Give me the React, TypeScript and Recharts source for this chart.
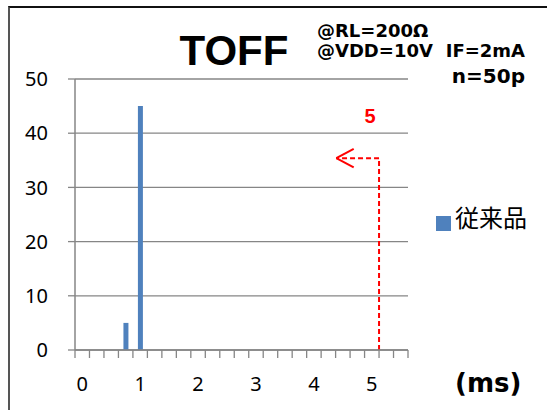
import {
  Bar,
  BarChart,
  CartesianGrid,
  Legend,
  ReferenceLine,
  XAxis,
  YAxis,
} from "recharts";

// histogram bins (ms), 0.25 ms wide
const binStarts = [
  "0", "0.25", "0.5", "0.75", "1", "1.25", "1.5", "1.75", "2", "2.25", "2.5", "2.75",
  "3", "3.25", "3.5", "3.75", "4", "4.25", "4.5", "4.75", "5", "5.25", "5.5",
];
const counts = [0, 0, 0, 5, 45, 0, 0, 0, 0, 0, 0, 0, 0, 0, 0, 0, 0, 0, 0, 0, 0, 0, 0];
const yTicks = [0, 10, 20, 30, 40, 50];
// bin boundaries (index) for the minor tick marks
const boundaryTicks = [0, 1, 2, 3, 4, 5, 6, 7, 8, 9, 10, 11, 12, 13, 14, 15, 16, 17, 18, 19, 20, 21, 22, 23];

// spec marker (boundary index / count)
const specX = 21;
const specY = 35.4;
const arrowTipX = 18.05;

const seriesName = "従来品";

// "mid" = bin centre in boundary units, feeds the edge axis
const data = binStarts.map((b, i) => ({ bin: b, count: counts[i], mid: i + 0.5 }));

const GRAY = "#868686";
const RED = "#ff0000";

export default function App() {
  return (
    <div style={{ position: "absolute", left: 0, top: 0, width: 547, height: 410, background: "#fff" }}>
      <div
        style={{
          position: "absolute",
          left: 8,
          top: 6,
          width: 545,
          height: 410,
          borderLeft: "2px solid #555",
          borderTop: "2px solid #111",
        }}
      />
      <div style={{ position: "absolute", left: 0, top: 0 }}>
        <BarChart
          width={547}
          height={410}
          data={data}
          margin={{ top: 79, right: 139, left: 15, bottom: 10 }}
          barSize={5}
        >
          <CartesianGrid vertical={false} stroke={GRAY} strokeWidth={1.3} yAxisId="left" />
          <XAxis
            xAxisId="labels"
            dataKey="bin"
            interval={0}
            height={49}
            axisLine={false}
            tickLine={false}
            tickSize={0}
            tickMargin={26}
            tickFormatter={(v: string) => (Number.isInteger(Number(v)) ? v : "")}
            tick={{ fill: "#000", fontSize: 20, fontFamily: "Noto Sans" }}
          />
          <XAxis
            xAxisId="edges"
            dataKey="mid"
            type="number"
            domain={[0, 23]}
            ticks={boundaryTicks}
            interval={0}
            height={1}
            tickSize={8}
            tickFormatter={() => ""}
            axisLine={{ stroke: GRAY, strokeWidth: 1.5 }}
            tickLine={{ stroke: GRAY, strokeWidth: 1.3 }}
            allowDataOverflow
          />
          <YAxis
            yAxisId="left"
            domain={[0, 50]}
            ticks={yTicks}
            width={60}
            tickSize={7}
            tickMargin={20}
            axisLine={{ stroke: GRAY, strokeWidth: 1.5 }}
            tickLine={{ stroke: GRAY, strokeWidth: 1.3 }}
            tick={{ fill: "#000", fontSize: 20, fontFamily: "Noto Sans" }}
          />
          <Legend
            layout="horizontal"
            verticalAlign="middle"
            align="center"
            iconType="square"
            iconSize={15}
            wrapperStyle={{ left: 436, top: 199, width: "auto" }}
            formatter={(v: string) => (
              <span style={{ color: "#000", fontSize: 24, fontFamily: "Noto Sans CJK JP" }}>{v}</span>
            )}
          />
          <Bar
            xAxisId="labels"
            yAxisId="left"
            dataKey="count"
            name={seriesName}
            fill="#4f81bd"
            isAnimationActive={false}
          />
          <ReferenceLine
            xAxisId="edges"
            yAxisId="left"
            segment={[{ x: specX, y: 0 }, { x: specX, y: specY }]}
            stroke={RED}
            strokeWidth={2}
            strokeDasharray="5 3"
          />
          <ReferenceLine
            xAxisId="edges"
            yAxisId="left"
            segment={[{ x: specX, y: specY }, { x: arrowTipX, y: specY }]}
            stroke={RED}
            strokeWidth={2}
            strokeDasharray="5 3"
          />
          <ReferenceLine
            xAxisId="edges"
            yAxisId="left"
            segment={[{ x: arrowTipX, y: specY }, { x: arrowTipX + 1.2, y: specY + 1.7 }]}
            stroke={RED}
            strokeWidth={2}
          />
          <ReferenceLine
            xAxisId="edges"
            yAxisId="left"
            segment={[{ x: arrowTipX, y: specY }, { x: arrowTipX + 1.2, y: specY - 1.7 }]}
            stroke={RED}
            strokeWidth={2}
          />
        </BarChart>
      </div>
      <svg
        width={547}
        height={410}
        style={{ position: "absolute", left: 0, top: 0, pointerEvents: "none" }}
      >
        <text x={234} y={65} textAnchor="middle" fontFamily="Liberation Sans" fontWeight="bold" fontSize={42}>
          TOFF
        </text>
        <text x={317} y={37} fontFamily="DejaVu Sans" fontWeight="bold" fontSize={18}>
          @RL=200Ω
        </text>
        <text x={317} y={57} fontFamily="DejaVu Sans" fontWeight="bold" fontSize={18}>
          @VDD=10V
        </text>
        <text x={525} y={57} textAnchor="end" fontFamily="DejaVu Sans" fontWeight="bold" fontSize={18}>
          IF=2mA
        </text>
        <text x={525} y={83} textAnchor="end" fontFamily="DejaVu Sans" fontWeight="bold" fontSize={20}>
          n=50p
        </text>
        <text x={370} y={123} textAnchor="middle" fill={RED} fontFamily="Liberation Sans" fontWeight="bold" fontSize={20}>
          5
        </text>
        <text x={455} y={392} fontFamily="DejaVu Sans" fontWeight="bold" fontSize={26}>
          (ms)
        </text>
      </svg>
    </div>
  );
}
